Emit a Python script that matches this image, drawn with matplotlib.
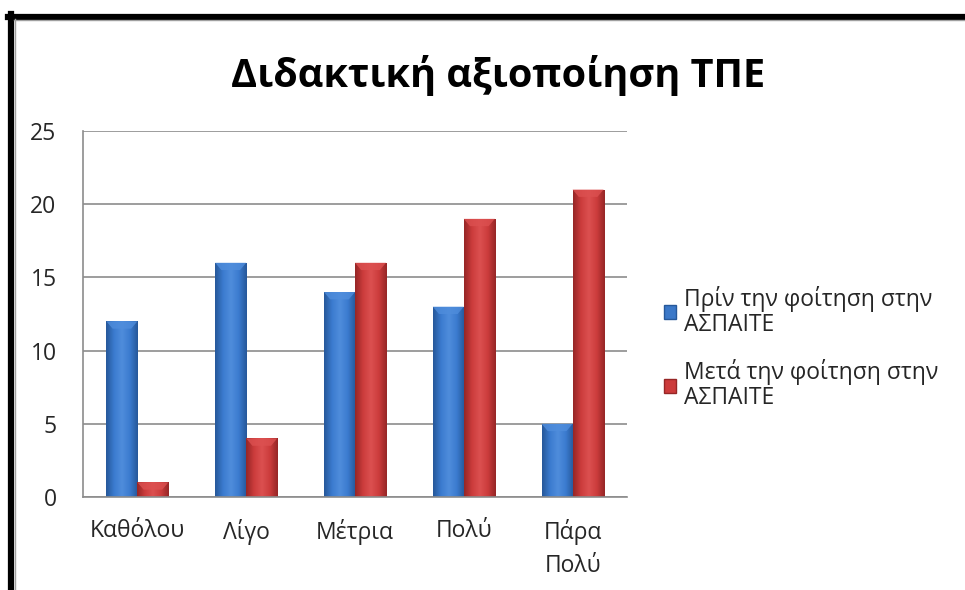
import numpy as np
import matplotlib.pyplot as plt
from matplotlib.lines import Line2D
from matplotlib.patches import Patch
from matplotlib.colors import LinearSegmentedColormap

plt.rcParams['font.family'] = ['Open Sans', 'DejaVu Sans']

# data
categories = ['Καθόλου', 'Λίγο', 'Μέτρια', 'Πολύ', 'Πάρα\nΠολύ']
before = [12, 16, 14, 13, 5]
after = [1, 4, 16, 19, 21]
series_names = ['Πρίν την φοίτηση στην\nΑΣΠΑΙΤΕ', 'Μετά την φοίτηση στην\nΑΣΠΑΙΤΕ']

blue = '#3b78c8'
red = '#cc3b3b'

fig = plt.figure(figsize=(9.65, 5.9), dpi=100)
ax = fig.add_axes([83 / 965, 93 / 590, 544 / 965, 366 / 590])

x = np.arange(len(categories))
w = 0.285

bars_b = ax.bar(x - w / 2, before, w, color=blue, zorder=2)
bars_r = ax.bar(x + w / 2, after, w, color=red, zorder=2)

# fake bevel shading on the bars
def shade(bars, dark, mid, light):
    cmap = LinearSegmentedColormap.from_list('s', [dark, mid, light, mid, dark])
    grad = np.linspace(0, 1, 64).reshape(1, -1)
    for b in bars:
        x0, y0 = b.get_x(), b.get_y()
        bw, bh = b.get_width(), b.get_height()
        im = ax.imshow(grad, cmap=cmap, aspect='auto', zorder=2.1,
                       extent=[x0, x0 + bw, y0, y0 + bh], interpolation='bicubic')
        im.set_clip_path(b)
        # lighter top cap
        cap = min(0.5, bh * 0.5)
        ax.fill([x0, x0 + bw, x0 + bw * 0.8, x0 + bw * 0.2],
                [y0 + bh, y0 + bh, y0 + bh - cap, y0 + bh - cap],
                color=light, alpha=0.8, zorder=2.2, lw=0)

shade(bars_b, '#26589a', '#3b7bcf', '#4f8ddc')
shade(bars_r, '#962626', '#cc3c3c', '#dc5050')

ax.set_xlim(-0.5, 4.5)
ax.set_ylim(0, 25)
ax.set_yticks(range(0, 26, 5))
ax.set_xticks(x)
ax.set_xticklabels(categories, fontsize=16.5, color='#262626', linespacing=1.5)
ax.tick_params(axis='y', labelsize=16.5, labelcolor='#262626', length=0, pad=19)
ax.tick_params(axis='x', length=0, pad=16)
ax.yaxis.grid(True, color='#8c8c8c', lw=1.2, zorder=0)
for s in ['top', 'right']:
    ax.spines[s].set_visible(False)
for s in ['left', 'bottom']:
    ax.spines[s].set_color('#8c8c8c')
    ax.spines[s].set_linewidth(1.2)

fig.text(498 / 965, 1 - 76 / 590, 'Διδακτική αξιοποίηση ΤΠΕ', fontsize=28.5,
         fontweight='bold', ha='center', va='center', color='black')

handles = [Patch(facecolor=blue, edgecolor='#26589a'),
           Patch(facecolor=red, edgecolor='#962626')]
fig.legend(handles, series_names, loc='upper left', bbox_to_anchor=(643 / 965, 1 - 265 / 590),
           frameon=False, labelcolor='#262626', handlelength=0.55,
           handleheight=0.55, handletextpad=0.35, labelspacing=1.0,
           prop={'size': 16.5})
for t in fig.legends[0].get_texts():
    t.set_linespacing(1.05)

# outer frame (left and top visible)
fig.add_artist(Line2D([11 / 965, 11 / 965], [0, 1 - 14 / 590], color='black', lw=4.5))
fig.add_artist(Line2D([8 / 965, 1], [1 - 16.5 / 590, 1 - 16.5 / 590], color='black', lw=4.5))
fig.add_artist(Line2D([15 / 965, 15 / 965], [0, 1 - 19 / 590], color='#a0a0a0', lw=1))
fig.add_artist(Line2D([14 / 965, 1], [1 - 20 / 590, 1 - 20 / 590], color='#a0a0a0', lw=1))

fig.savefig('out.png', dpi=100)
